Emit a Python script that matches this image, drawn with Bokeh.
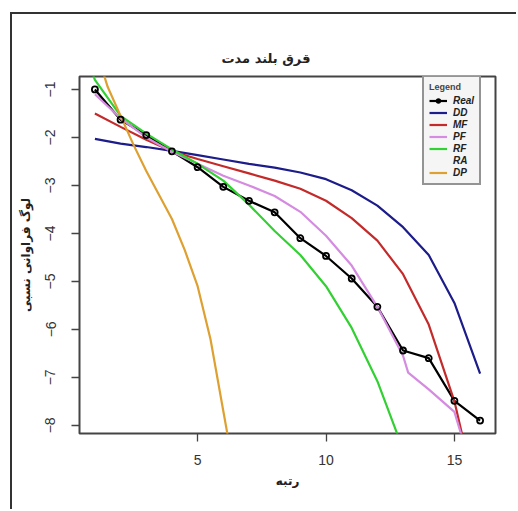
from bokeh.plotting import figure
from bokeh.models import Range1d, FixedTicker, Legend, LegendItem
from bokeh.embed import file_html
from bokeh.resources import INLINE

# ---- data ----
title_text = "قرق بلند مدت"
x_label = "رتبه"
y_label = "لوگ فراوانی نسبی"

real_x = [1, 2, 3, 4, 5, 6, 7, 8, 9, 10, 11, 12, 13, 14, 15, 16]
real_y = [-1.0, -1.63, -1.95, -2.29, -2.62, -3.03, -3.32, -3.56, -4.1, -4.47, -4.94, -5.53, -6.44, -6.6, -7.49, -7.9]

dd_x = [1, 2, 3, 4, 5, 6, 7, 8, 9, 10, 11, 12, 13, 14, 15, 16]
dd_y = [-2.03, -2.13, -2.2, -2.28, -2.37, -2.46, -2.55, -2.63, -2.73, -2.87, -3.1, -3.42, -3.87, -4.45, -5.45, -6.92]

mf_x = [1, 2, 3, 4, 5, 6, 7, 8, 9, 10, 11, 12, 13, 14, 15, 16]
mf_y = [-1.5, -1.78, -2.05, -2.29, -2.45, -2.6, -2.75, -2.9, -3.07, -3.32, -3.68, -4.15, -4.85, -5.9, -7.5, -9.8]

pf_x = [1, 2, 3, 4, 5, 6, 7, 8, 9, 10, 11, 12, 13, 13.2, 14, 15, 16]
pf_y = [-1.1, -1.6, -2.0, -2.3, -2.55, -2.8, -3.0, -3.22, -3.55, -4.05, -4.67, -5.53, -6.55, -6.9, -7.25, -7.72, -9.5]

rf_x = [0.9, 1, 2, 3, 4, 5, 6, 7, 8, 9, 10, 11, 12, 13]
rf_y = [-0.65, -0.8, -1.55, -1.92, -2.25, -2.55, -2.9, -3.4, -3.95, -4.45, -5.1, -5.97, -7.08, -8.5]

ra_x = []
ra_y = []

dp_x = [1, 1.5, 2, 2.5, 3, 3.5, 4, 4.5, 5, 5.5, 6, 6.5]
dp_y = [-0.1, -0.95, -1.55, -2.15, -2.7, -3.2, -3.7, -4.35, -5.1, -6.2, -7.7, -9.2]

x_ticks = [5, 10, 15]
y_ticks = [-1, -2, -3, -4, -5, -6, -7, -8]

series = [
    ("Real", real_x, real_y, "#000000"),
    ("DD", dd_x, dd_y, "#1c1c8a"),
    ("MF", mf_x, mf_y, "#c42a2a"),
    ("PF", pf_x, pf_y, "#d48be0"),
    ("RF", rf_x, rf_y, "#33d033"),
    ("RA", ra_x, ra_y, "#f5f03c"),
    ("DP", dp_x, dp_y, "#dea030"),
]

p = figure(width=506, height=497, output_backend="svg", toolbar_location=None,
           x_range=Range1d(0.4, 16.6), y_range=Range1d(-8.17, -0.73),
           min_border_left=67, min_border_right=23, min_border_top=62, min_border_bottom=78)

p.styles = {"margin-left": "10px", "margin-top": "12px",
            "border-left": "2px solid #333333", "border-top": "2px solid #333333"}

p.background_fill_color = "white"
p.border_fill_color = "white"
p.outline_line_color = "#444444"
p.outline_line_width = 2
p.grid.visible = False

renderers = {}
for name, xs, ys, col in series:
    r = p.line(xs, ys, line_color=col, line_width=2.2)
    renderers[name] = [r]
c = p.scatter(real_x, real_y, marker="circle", size=6, fill_color=None,
              line_color="#000000", line_width=1.8)
renderers["Real"].append(c)

# axes
for ax in (p.xaxis[0], p.yaxis[0]):
    ax.axis_line_color = None
    ax.major_tick_line_color = "#444444"
    ax.major_tick_line_width = 1.3
    ax.major_tick_out = 8
    ax.major_tick_in = 0
    ax.minor_tick_line_color = None
    ax.major_label_text_font = "Liberation Sans"
    ax.major_label_text_font_size = "14px"
    ax.major_label_text_color = "#333333"
    ax.axis_label_text_font = "DejaVu Sans"
    ax.axis_label_text_font_style = "bold"
    ax.axis_label_text_font_size = "12px"
    ax.axis_label_text_color = "#222222"

p.xaxis[0].ticker = FixedTicker(ticks=x_ticks)
p.yaxis[0].ticker = FixedTicker(ticks=y_ticks)
p.xaxis[0].major_label_standoff = 13
p.xaxis[0].axis_label = x_label
p.xaxis[0].axis_label_standoff = 6
p.yaxis[0].axis_label = y_label
p.yaxis[0].major_label_orientation = "vertical"
p.yaxis[0].major_label_standoff = 16
p.yaxis[0].axis_label_standoff = 10

# title
p.title.text = title_text
p.title.align = "left"
p.title.offset = 142
p.title.text_font = "DejaVu Sans"
p.title.text_font_size = "13px"
p.title.text_font_style = "bold"
p.title.text_color = "#222222"
p.title.standoff = 21

# legend
items = [LegendItem(label=name, renderers=renderers[name]) for name, _, _, _ in series]
legend = Legend(items=items, location=(343, 248), title="Legend",
                title_text_font="Liberation Sans", title_text_font_size="9px",
                title_text_font_style="bold", title_standoff=3,
                label_text_font="Liberation Sans", label_text_font_size="10px",
                label_text_font_style="bold italic", label_text_color="#222222",
                label_height=9, glyph_height=9, glyph_width=18, label_standoff=6,
                spacing=1, padding=5, margin=0,
                border_line_color="#333333", border_line_width=2,
                background_fill_color="#f5f5f5", background_fill_alpha=1.0)
p.add_layout(legend)

open("out.html", "w").write(file_html(p, INLINE))
